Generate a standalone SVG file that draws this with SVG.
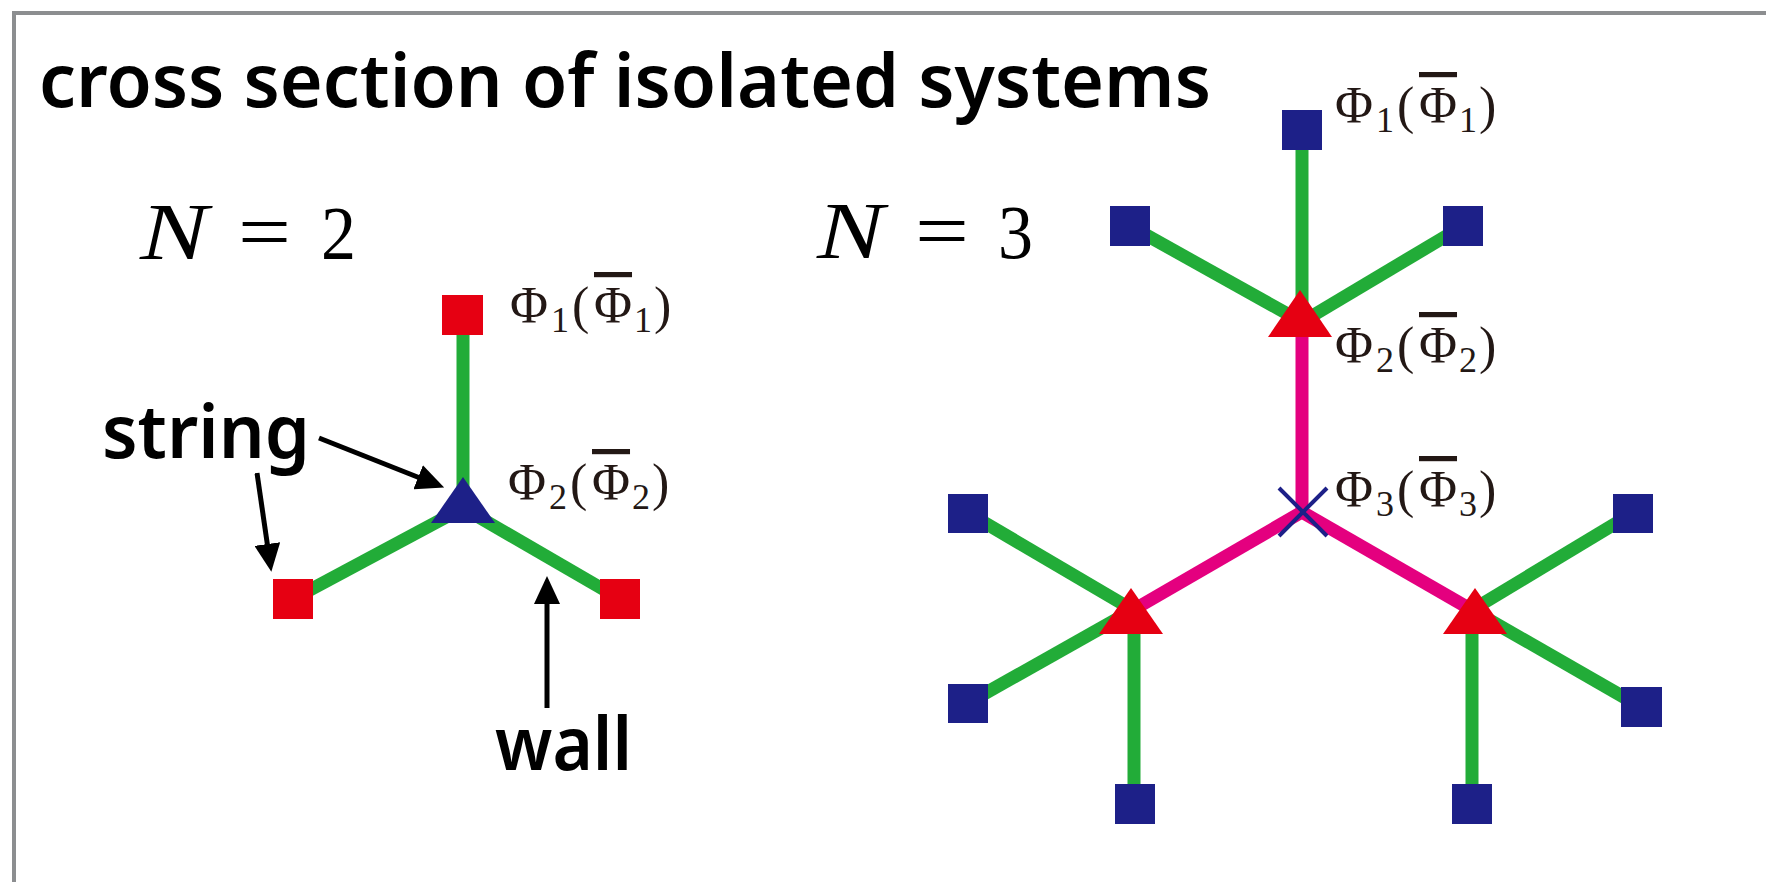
<svg xmlns="http://www.w3.org/2000/svg" width="1766" height="882" viewBox="0 0 1766 882">
<style>
.frame{fill:none;stroke:#8c8e90;stroke-width:4}
.title{font-family:"Noto Sans","DejaVu Sans",sans-serif;font-weight:600;font-size:74px;fill:#000}
.math{font-family:"Liberation Serif","Times New Roman",serif;fill:#000}
.phi{font-family:"Liberation Serif","Times New Roman",serif;font-size:52px;fill:#231815}
.sub{font-size:36px}
.bar{text-decoration:overline}
.g{stroke:#22ac38;stroke-width:13;fill:none}
.m{stroke:#e4007f;stroke-width:13;fill:none}
.arrow{stroke:#000;stroke-width:5;fill:none}
.rs{fill:#e60012}
.bs{fill:#1d2088}
.rt{fill:#e60012}
.bt{fill:#1d2088}
.x{stroke:#1d2088;stroke-width:4;fill:none}
</style>
<defs>
<marker id="ah" markerUnits="userSpaceOnUse" markerWidth="28" markerHeight="26" refX="2" refY="13" orient="auto">
<path d="M0,0 L28,13 L0,26 z" fill="#000"/>
</marker>
</defs>
<rect width="1766" height="882" fill="#fff"/>
<path class="frame" d="M14,900 V13 H1800"/>
<text class="title" x="39" y="107" textLength="1172" lengthAdjust="spacingAndGlyphs">cross section of isolated systems</text>

<g id="label-n2">
<text class="math" x="140" y="259" font-size="80" font-style="italic" textLength="68" lengthAdjust="spacingAndGlyphs">N</text>
<text class="math" x="238" y="259" font-size="80" textLength="53" lengthAdjust="spacingAndGlyphs">=</text>
<text class="math" x="321" y="259" font-size="76" textLength="35" lengthAdjust="spacingAndGlyphs">2</text>
</g>
<g id="label-n3">
<text class="math" x="817" y="258" font-size="80" font-style="italic" textLength="67" lengthAdjust="spacingAndGlyphs">N</text>
<text class="math" x="915" y="258" font-size="80" textLength="54" lengthAdjust="spacingAndGlyphs">=</text>
<text class="math" x="998" y="258" font-size="76" textLength="35" lengthAdjust="spacingAndGlyphs">3</text>
</g>

<g id="connectors">
<line class="g" x1="463" y1="315" x2="463" y2="508"/>
<line class="g" x1="463" y1="508" x2="293" y2="599"/>
<line class="g" x1="463" y1="508" x2="620" y2="599"/>

<line class="g" x1="1302" y1="130" x2="1302" y2="322"/>
<line class="g" x1="1130" y1="226" x2="1302" y2="322"/>
<line class="g" x1="1463" y1="226" x2="1302" y2="322"/>
<line class="m" x1="1302" y1="322" x2="1302" y2="512"/>
<line class="m" x1="1302" y1="512" x2="1133" y2="610"/>
<line class="m" x1="1302" y1="512" x2="1472" y2="610"/>
<line class="g" x1="968" y1="513" x2="1133" y2="610"/>
<line class="g" x1="968" y1="703" x2="1133" y2="610"/>
<line class="g" x1="1134" y1="610" x2="1134" y2="804"/>
<line class="g" x1="1633" y1="513" x2="1472" y2="610"/>
<line class="g" x1="1641" y1="707" x2="1472" y2="610"/>
<line class="g" x1="1472" y1="610" x2="1472" y2="804"/>

<line class="arrow" x1="319" y1="438" x2="420" y2="478" marker-end="url(#ah)"/>
<line class="arrow" x1="257" y1="473" x2="267.6" y2="546" marker-end="url(#ah)"/>
<line class="arrow" x1="547" y1="708" x2="547" y2="602" marker-end="url(#ah)"/>
</g>

<g id="n2-top"><rect class="rs" x="442" y="295" width="41" height="40"/></g>
<g id="n2-left"><rect class="rs" x="273" y="579" width="40" height="40"/></g>
<g id="n2-right"><rect class="rs" x="600" y="579" width="40" height="40"/></g>
<g id="n2-center"><polygon class="bt" points="463,477 431,523 495,523"/></g>

<g id="n3-top"><rect class="bs" x="1282" y="110" width="40" height="40"/></g>
<g id="n3-top-left"><rect class="bs" x="1110" y="206" width="40" height="40"/></g>
<g id="n3-top-right"><rect class="bs" x="1443" y="206" width="40" height="40"/></g>
<g id="n3-j1"><polygon class="rt" points="1300,290 1268,337 1332,337"/></g>
<g id="n3-center"><line class="x" x1="1279" y1="488" x2="1327" y2="536"/><line class="x" x1="1327" y1="488" x2="1279" y2="536"/></g>
<g id="n3-j2"><polygon class="rt" points="1131,588 1099,634 1163,634"/></g>
<g id="n3-j3"><polygon class="rt" points="1475,588 1443,634 1507,634"/></g>
<g id="n3-l1"><rect class="bs" x="948" y="494" width="40" height="39"/></g>
<g id="n3-l2"><rect class="bs" x="948" y="684" width="40" height="39"/></g>
<g id="n3-l3"><rect class="bs" x="1115" y="784" width="40" height="40"/></g>
<g id="n3-r1"><rect class="bs" x="1613" y="494" width="40" height="39"/></g>
<g id="n3-r2"><rect class="bs" x="1621" y="687" width="41" height="40"/></g>
<g id="n3-r3"><rect class="bs" x="1452" y="784" width="40" height="40"/></g>

<g id="labels">
<text class="title" x="102" y="458" textLength="208" lengthAdjust="spacingAndGlyphs">string</text>
<text class="title" x="495" y="770" textLength="137" lengthAdjust="spacingAndGlyphs">wall</text>

<text class="phi" y="323"><tspan x="510">Φ</tspan><tspan class="sub" x="551" dy="9">1</tspan><tspan x="572" dy="-9">(</tspan><tspan class="bar" x="594">Φ</tspan><tspan class="sub" x="634" dy="9">1</tspan><tspan x="654" dy="-9">)</tspan></text>

<text class="phi" y="500"><tspan x="508">Φ</tspan><tspan class="sub" x="549" dy="9">2</tspan><tspan x="570" dy="-9">(</tspan><tspan class="bar" x="592">Φ</tspan><tspan class="sub" x="632" dy="9">2</tspan><tspan x="652" dy="-9">)</tspan></text>

<text class="phi" y="123"><tspan x="1335">Φ</tspan><tspan class="sub" x="1376" dy="9">1</tspan><tspan x="1397" dy="-9">(</tspan><tspan class="bar" x="1419">Φ</tspan><tspan class="sub" x="1459" dy="9">1</tspan><tspan x="1479" dy="-9">)</tspan></text>

<text class="phi" y="363"><tspan x="1335">Φ</tspan><tspan class="sub" x="1376" dy="9">2</tspan><tspan x="1397" dy="-9">(</tspan><tspan class="bar" x="1419">Φ</tspan><tspan class="sub" x="1459" dy="9">2</tspan><tspan x="1479" dy="-9">)</tspan></text>

<text class="phi" y="507"><tspan x="1335">Φ</tspan><tspan class="sub" x="1376" dy="9">3</tspan><tspan x="1397" dy="-9">(</tspan><tspan class="bar" x="1419">Φ</tspan><tspan class="sub" x="1459" dy="9">3</tspan><tspan x="1479" dy="-9">)</tspan></text>
</g>
</svg>
